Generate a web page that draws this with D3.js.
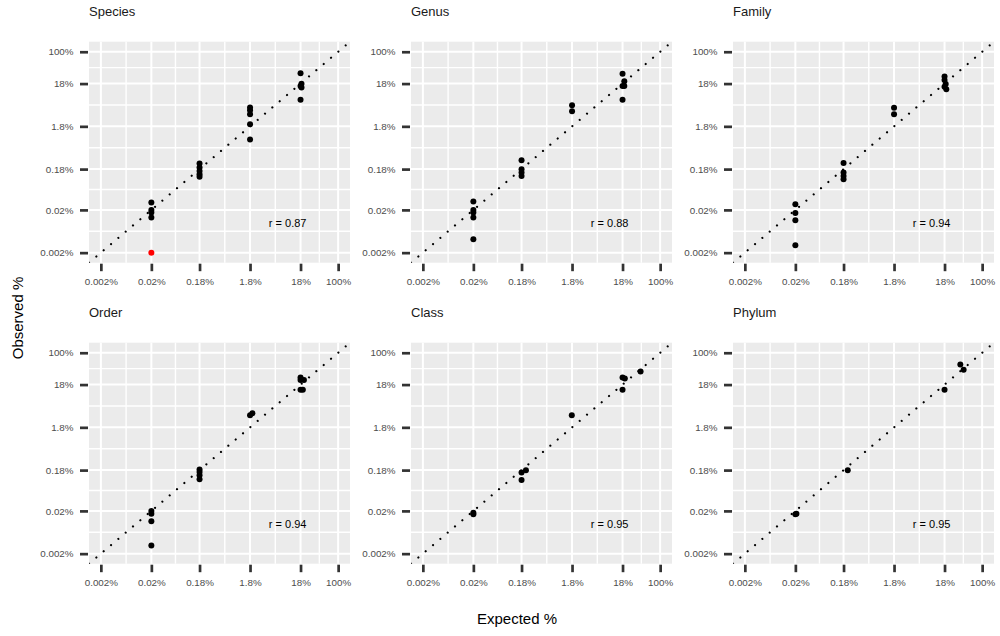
<!DOCTYPE html>
<html>
<head>
<meta charset="utf-8">
<script src="https://cdn.jsdelivr.net/npm/d3@7"></script>
<style>
  body { margin: 0; background: #fff; }
  svg { font-family: "Liberation Sans", Arial, Helvetica, sans-serif; }
</style>
</head>
<body>
<svg id="chart" width="1000" height="636"></svg>
<script>
// facet names and correlation labels
const panelNames = ["Species", "Genus", "Family", "Order", "Class", "Phylum"];
const rLabels = ["r = 0.87", "r = 0.88", "r = 0.94", "r = 0.94", "r = 0.95", "r = 0.95"];

// axis breaks (percent)
const tickValues = [0.002, 0.02, 0.18, 1.8, 18, 100];
const tickLabels = ["0.002%", "0.02%", "0.18%", "1.8%", "18%", "100%"];

// expected vs observed abundances (%)
const speciesExpected = [0.02, 0.02, 0.02, 0.02, 0.18, 0.18, 0.18, 0.18, 0.18, 1.8, 1.8, 1.8, 1.8, 1.8, 18, 18.8, 18, 18.8, 18];
const speciesObserved = [0.0296, 0.0199, 0.0175, 0.0132, 0.243, 0.196, 0.163, 0.136, 0.120, 4.97, 4.30, 3.47, 2.02, 0.885, 31.6, 17.8, 15.9, 14.6, 7.5];
// zero counts drawn at the floor
const speciesZeroExpected = [0.02];
const speciesZeroObserved = [0.002];

const genusExpected = [0.02, 0.02, 0.02, 0.02, 0.02, 0.18, 0.18, 0.18, 0.18, 1.8, 1.8, 18, 19.5, 18, 19.5, 18];
const genusObserved = [0.0313, 0.0199, 0.0173, 0.0132, 0.0041, 0.290, 0.179, 0.150, 0.124, 5.63, 4.07, 30.5, 20.5, 15.9, 15.9, 7.5];

const familyExpected = [0.02, 0.02, 0.02, 0.02, 0.18, 0.18, 0.18, 0.18, 1.8, 1.8, 18, 18, 19, 18, 19.5];
const familyObserved = [0.0270, 0.0169, 0.0114, 0.0030, 0.251, 0.150, 0.124, 0.104, 4.87, 3.47, 26.5, 21.7, 17.5, 15.1, 13.3];

const orderExpected = [0.02, 0.02, 0.02, 0.02, 0.18, 0.18, 0.18, 0.18, 1.8, 2.0, 18, 18, 21, 18, 20];
const orderObserved = [0.0198, 0.0172, 0.0114, 0.0031, 0.185, 0.163, 0.136, 0.110, 3.47, 3.86, 26.5, 22.9, 22.9, 13.6, 13.6];

const classExpected = [0.02, 0.02, 0.18, 0.22, 0.18, 1.78, 18, 20, 18, 41];
const classObserved = [0.0166, 0.0180, 0.158, 0.179, 0.106, 3.47, 26.5, 25, 13.6, 36.6];

const phylumExpected = [0.02, 0.021, 0.218, 18, 37, 43];
const phylumObserved = [0.0166, 0.0172, 0.179, 13.6, 53.3, 39.9];

const expectedSets = [speciesExpected, genusExpected, familyExpected, orderExpected, classExpected, phylumExpected];
const observedSets = [speciesObserved, genusObserved, familyObserved, orderObserved, classObserved, phylumObserved];

const svg = d3.select("#chart");

const pw = 261, ph = 221;
const colX = [89, 411, 733];
const rowY = [41.7, 342.7];

// log scale, 5% expansion like ggplot
const lo = Math.log10(tickValues[0]), hi = Math.log10(tickValues[tickValues.length - 1]);
const pad = 0.05 * (hi - lo);
const dom = [Math.pow(10, lo - pad), Math.pow(10, hi + pad)];
const x = d3.scaleLog().domain(dom).range([0, pw]);
const y = d3.scaleLog().domain(dom).range([ph, 0]);

// minor breaks halfway between majors (log space)
const minor = d3.pairs(tickValues).map(([a, b]) => Math.sqrt(a * b));

panelNames.forEach((name, i) => {
    const g = svg.append("g")
        .attr("transform", `translate(${colX[i % 3]},${rowY[Math.floor(i / 3)]})`);

    g.append("clipPath").attr("id", "clip" + i)
        .append("rect").attr("width", pw).attr("height", ph);

    g.append("rect")
        .attr("width", pw).attr("height", ph)
        .attr("fill", "#EBEBEB");

    g.selectAll(".minx").data(minor).enter().append("line")
        .attr("x1", d => x(d)).attr("x2", d => x(d))
        .attr("y1", 0).attr("y2", ph)
        .attr("stroke", "#fff").attr("stroke-width", 1.4);
    g.selectAll(".miny").data(minor).enter().append("line")
        .attr("y1", d => y(d)).attr("y2", d => y(d))
        .attr("x1", 0).attr("x2", pw)
        .attr("stroke", "#fff").attr("stroke-width", 1.4);
    g.selectAll(".majx").data(tickValues).enter().append("line")
        .attr("x1", d => x(d)).attr("x2", d => x(d))
        .attr("y1", 0).attr("y2", ph)
        .attr("stroke", "#fff").attr("stroke-width", 2);
    g.selectAll(".majy").data(tickValues).enter().append("line")
        .attr("y1", d => y(d)).attr("y2", d => y(d))
        .attr("x1", 0).attr("x2", pw)
        .attr("stroke", "#fff").attr("stroke-width", 2);

    // y = x reference
    g.append("line")
        .attr("clip-path", `url(#clip${i})`)
        .attr("x1", x(dom[0])).attr("y1", y(dom[0]))
        .attr("x2", x(dom[1])).attr("y2", y(dom[1]))
        .attr("stroke", "#000").attr("stroke-width", 2.2)
        .attr("stroke-linecap", "round")
        .attr("stroke-dasharray", "0.01 9.6");

    const pts = expectedSets[i].map((e, k) => ({ e: e, o: observedSets[i][k] }));
    g.selectAll(".pt").data(pts).enter().append("circle")
        .attr("cx", d => x(d.e)).attr("cy", d => y(d.o))
        .attr("r", 3).attr("fill", "#000");

    if (i === 0) {
        const zeros = speciesZeroExpected.map((e, k) => ({ e: e, o: speciesZeroObserved[k] }));
        g.selectAll(".zero").data(zeros).enter().append("circle")
            .attr("cx", d => x(d.e)).attr("cy", d => y(d.o))
            .attr("r", 3).attr("fill", "#FF0000");
    }

    g.append("text")
        .attr("x", x(10)).attr("y", y(0.01))
        .attr("text-anchor", "middle")
        .attr("dominant-baseline", "central")
        .attr("font-size", 11).attr("fill", "#000")
        .text(rLabels[i]);

    const fmt = d => tickLabels[tickValues.indexOf(d)];

    const ax = g.append("g")
        .attr("transform", `translate(0,${ph + 1})`)
        .call(d3.axisBottom(x).tickValues(tickValues).tickFormat(fmt).tickSize(7.5).tickPadding(6.8));
    const ay = g.append("g")
        .attr("transform", "translate(-1,0)")
        .call(d3.axisLeft(y).tickValues(tickValues).tickFormat(fmt).tickSize(8).tickPadding(6.5));

    [ax, ay].forEach(a => {
        a.select(".domain").remove();
        a.selectAll(".tick line").attr("stroke", "#333").attr("stroke-width", 2.7);
        a.selectAll(".tick text").attr("fill", "#4D4D4D").attr("font-size", 9.8)
            .attr("font-family", '"Liberation Sans", Arial, sans-serif');
    });

    g.append("text")
        .attr("x", 0).attr("y", -26)
        .attr("font-size", 13).attr("fill", "#1A1A1A")
        .text(name);
});

svg.append("text")
    .attr("x", 517).attr("y", 624)
    .attr("text-anchor", "middle")
    .attr("font-size", 15).attr("fill", "#000")
    .text("Expected %");

svg.append("text")
    .attr("transform", "translate(23,318) rotate(-90)")
    .attr("text-anchor", "middle")
    .attr("font-size", 15).attr("fill", "#000")
    .text("Observed %");
</script>
</body>
</html>
